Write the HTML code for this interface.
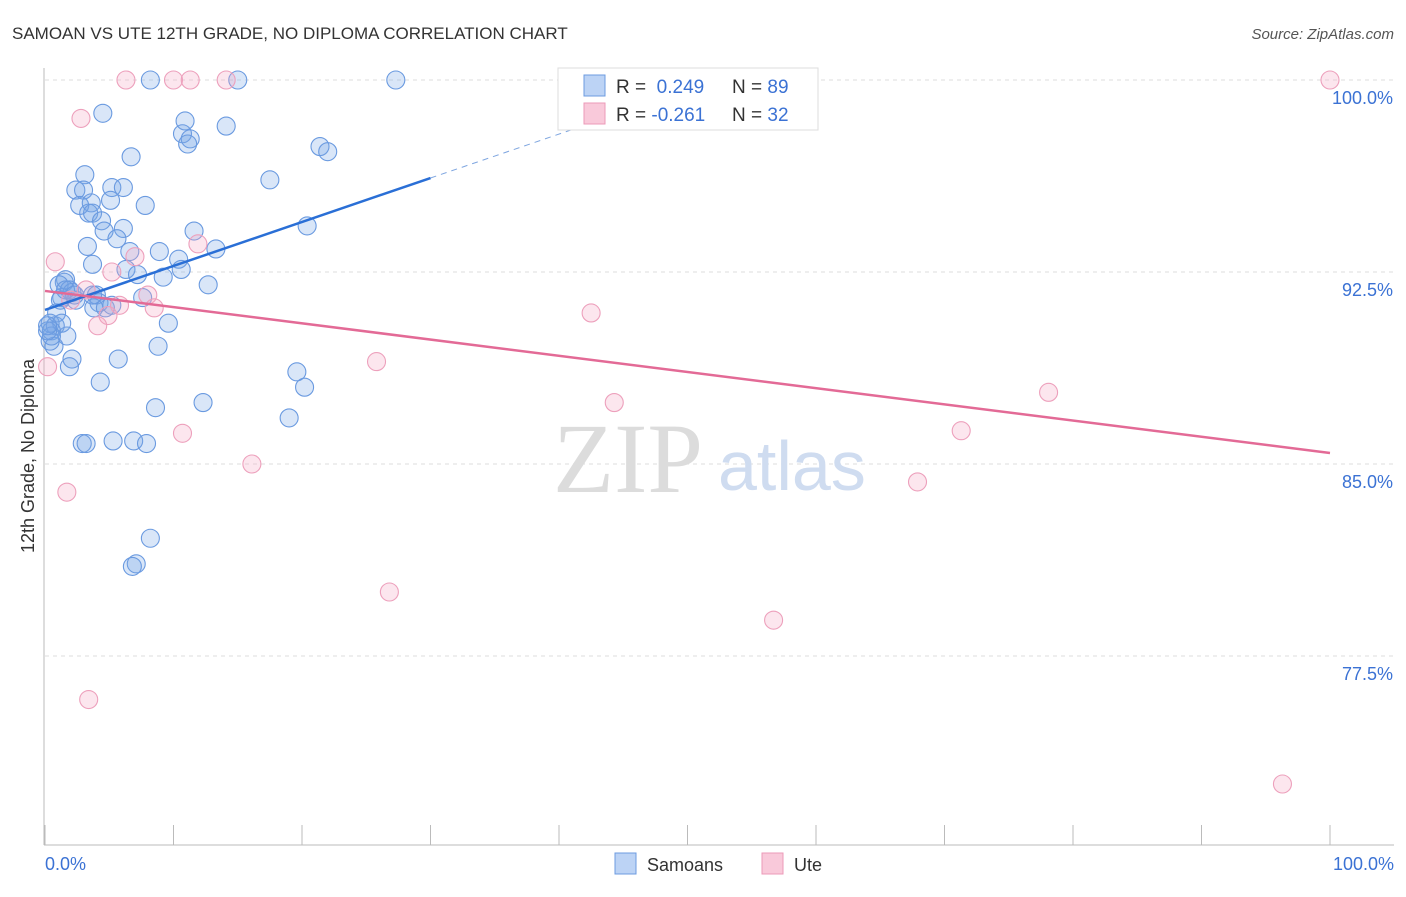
<!DOCTYPE html>
<html><head><meta charset="utf-8"><style>
body{margin:0;background:#fff;font-family:"Liberation Sans",sans-serif}
svg text{font-family:"Liberation Sans",sans-serif}
svg text.serif{font-family:"Liberation Serif",serif}
</style></head><body>
<svg width="1406" height="892">
<text x="12" y="39" font-size="17" fill="#333">SAMOAN VS UTE 12TH GRADE, NO DIPLOMA CORRELATION CHART</text>
<text x="1394" y="39" font-size="15" fill="#555" font-style="italic" text-anchor="end">Source: ZipAtlas.com</text>
<g id="grid"></g>
<text class="serif" x="553" y="492" font-size="100" fill="#dcdcdc">ZIP</text>
<text x="718" y="490" font-size="70" fill="#cfdcf0">atlas</text>
<line x1="44" y1="68" x2="44" y2="845" stroke="#bbb"/>
<line x1="44" y1="845" x2="1394" y2="845" stroke="#bbb"/>
<text transform="translate(34,456) rotate(-90)" font-size="18" fill="#333" text-anchor="middle">12th Grade, No Diploma</text>
<text x="45" y="870" font-size="18" fill="#3b72d4">0.0%</text>
<text x="1394" y="870" font-size="18" fill="#3b72d4" text-anchor="end">100.0%</text>
<g id="marks"></g>
<g>
<rect x="558" y="68" width="260" height="62" fill="#fff" stroke="#ddd"/>
<rect x="584" y="75" width="21" height="21" fill="#bcd3f5" stroke="#6c9be0"/>
<rect x="584" y="103" width="21" height="21" fill="#f9c9da" stroke="#ec9ab8"/>
<text x="616" y="93" font-size="19" fill="#333">R = <tspan fill="#3b72d4">&#160;0.249</tspan></text>
<text x="732" y="93" font-size="19" fill="#333">N = <tspan fill="#3b72d4">89</tspan></text>
<text x="616" y="121" font-size="19" fill="#333">R = <tspan fill="#3b72d4">-0.261</tspan></text>
<text x="732" y="121" font-size="19" fill="#333">N = <tspan fill="#3b72d4">32</tspan></text>
</g>
<g>
<rect x="615" y="853" width="21" height="21" fill="#bcd3f5" stroke="#6c9be0"/>
<text x="647" y="871" font-size="18" fill="#333">Samoans</text>
<rect x="762" y="853" width="21" height="21" fill="#f9c9da" stroke="#ec9ab8"/>
<text x="794" y="871" font-size="18" fill="#333">Ute</text>
</g>
</svg>
<script>
const yTicks=[100,92.5,85,77.5];
const yTickLabels=["100.0%","92.5%","85.0%","77.5%"];
const xTicks=[0,10,20,30,40,50,60,70,80,90,100];
const blueX=[8.2,15.0,27.3,4.5,10.9,14.1,10.7,11.3,11.1,21.4,22.0,6.7,17.5,3.1,2.4,3.0,5.2,6.1,5.1,2.7,3.6,7.8,3.4,3.7,4.4,4.6,6.1,11.6,20.4,5.6,3.3,6.6,8.9,13.3,3.7,6.3,10.4,10.6,7.2,9.2,1.6,1.5,1.1,1.9,2.1,12.7,4.0,4.2,7.6,1.3,2.4,3.8,4.7,0.9,0.4,0.8,1.3,0.5,1.7,9.6,8.8,0.7,0.4,2.1,5.7,1.9,19.6,20.2,4.3,12.3,8.6,19.0,2.9,3.2,5.3,6.9,7.9,8.2,7.1,6.8,0.5,0.2,0.2,1.2,1.6,2.3,3.7,5.2];
const blueY=[100,100,100,98.7,98.4,98.2,97.9,97.7,97.5,97.4,97.2,97.0,96.1,96.3,95.7,95.7,95.8,95.8,95.3,95.1,95.2,95.1,94.8,94.8,94.5,94.1,94.2,94.1,94.3,93.8,93.5,93.3,93.3,93.4,92.8,92.6,93.0,92.6,92.4,92.3,92.2,92.1,92.0,91.8,91.7,92.0,91.6,91.3,91.5,91.5,91.4,91.1,91.1,90.9,90.5,90.4,90.5,90.2,90.0,90.5,89.6,89.6,89.8,89.1,89.1,88.8,88.6,88.0,88.2,87.4,87.2,86.8,85.8,85.8,85.9,85.9,85.8,82.1,81.1,81.0,90.0,90.2,90.4,91.4,91.8,91.6,91.6,91.2];
const pinkX=[6.3,10.0,11.3,14.1,52.4,100,2.8,0.8,7.0,11.9,5.2,2.0,8.0,3.2,5.8,8.5,4.9,4.1,42.5,25.8,0.2,44.3,78.1,71.3,10.7,16.1,67.9,1.7,26.8,56.7,3.4,96.3];
const pinkY=[100,100,100,100,100,100,98.5,92.9,93.1,93.6,92.5,91.4,91.6,91.8,91.2,91.1,90.8,90.4,90.9,89.0,88.8,87.4,87.8,86.3,86.2,85.0,84.3,83.9,80.0,78.9,75.8,72.5];
const blueTrend=[91.02,0.1717];
const pinkTrend=[91.76,-0.0633];
const NS="http://www.w3.org/2000/svg";
const sx=v=>45+v*12.85;
const sy=v=>80+(100-v)*25.6;
function mk(t,a,p){const e=document.createElementNS(NS,t);for(const k in a)e.setAttribute(k,a[k]);p.appendChild(e);return e;}
const grid=document.getElementById('grid'),marks=document.getElementById('marks');
yTicks.forEach((t,i)=>{
 const l=mk('line',{x1:45,x2:1394,y1:sy(t),y2:sy(t),stroke:'#ddd','stroke-dasharray':'4,4'},grid);
 
 
 const tx=mk('text',{x:1393,y:sy(t)+24,'font-size':18,fill:'#3b72d4','text-anchor':'end'},grid);
 tx.textContent=yTickLabels[i];
 
 
});
xTicks.forEach(t=>{
 const l=mk('line',{x1:sx(t),x2:sx(t),y1:825,y2:845,stroke:'#bbb'},grid);
 
 
});
blueX.forEach((x,i)=>{
 const c=mk('circle',{cx:sx(x),cy:sy(blueY[i]),r:9,fill:'rgba(120,165,230,0.28)',stroke:'#6a9ae0','stroke-width':1.1},marks);
 
 
});
pinkX.forEach((x,i)=>{
 const c=mk('circle',{cx:sx(x),cy:sy(pinkY[i]),r:9,fill:'rgba(245,165,195,0.28)',stroke:'#eda0bc','stroke-width':1.1},marks);
 
 
});
const bl=v=>blueTrend[0]+blueTrend[1]*v, pl=v=>pinkTrend[0]+pinkTrend[1]*v;
const b1=mk('line',{x1:sx(0),y1:sy(bl(0)),x2:sx(30),y2:sy(bl(30)),stroke:'#2a6fd6','stroke-width':2.5},marks);


const b2=mk('line',{x1:sx(30),y1:sy(bl(30)),x2:sx(52),y2:sy(bl(52)),stroke:'#7fa6e0','stroke-width':1,'stroke-dasharray':'6,5'},marks);


const p1=mk('line',{x1:sx(0),y1:sy(pl(0)),x2:sx(100),y2:sy(pl(100)),stroke:'#e36a96','stroke-width':2.5},marks);


</script>
</body></html>
